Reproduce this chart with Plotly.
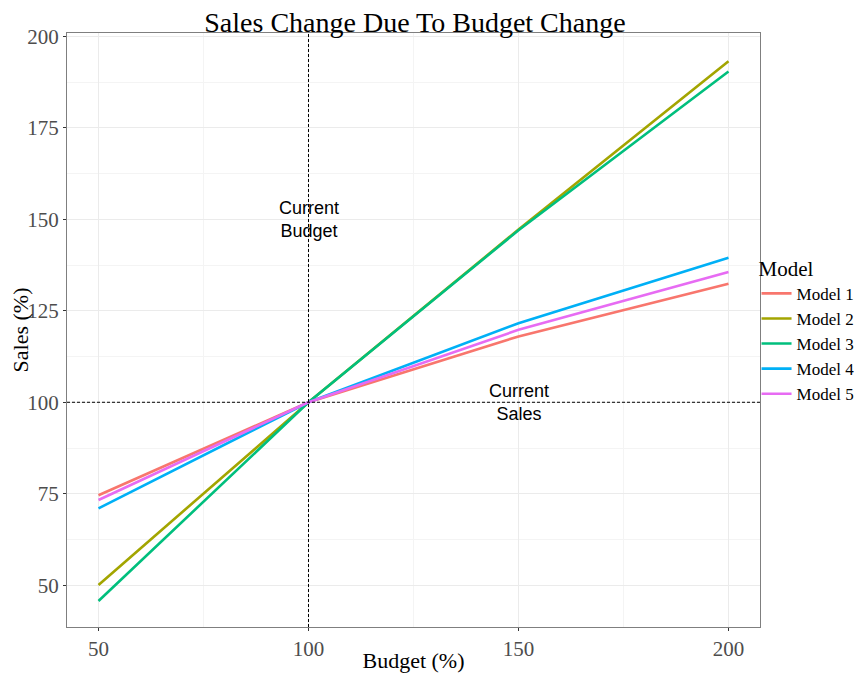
import plotly.graph_objects as go

budget = [50, 100, 150, 200]
model_names = ["Model 1", "Model 2", "Model 3", "Model 4", "Model 5"]
model1 = [74.6, 100, 118.0, 132.4]
model2 = [50.1, 100, 147.2, 193.2]
model3 = [45.7, 100, 147.0, 190.4]
model4 = [71.0, 100, 121.6, 139.5]
model5 = [73.3, 100, 119.8, 135.6]
series = [model1, model2, model3, model4, model5]
colors = ["#F8766D", "#A3A500", "#00BF7D", "#00B0F6", "#E76BF3"]

x_ticks = [50, 100, 150, 200]
y_ticks = [50, 75, 100, 125, 150, 175, 200]

fig = go.Figure()
for name, vals, c in zip(model_names, series, colors):
    fig.add_trace(go.Scatter(x=budget, y=vals, mode="lines", name=name,
                             line=dict(color=c, width=2.6)))

fig.add_vline(x=100, line=dict(color="black", width=1, dash="3px,2px"))
fig.add_hline(y=100, line=dict(color="black", width=1, dash="3px,2px"))

fig.add_annotation(x=100, y=150, text="Current<br>Budget", showarrow=False,
                   font=dict(family="Liberation Sans", size=18, color="black"))
fig.add_annotation(x=150, y=100, text="Current<br>Sales", showarrow=False,
                   font=dict(family="Liberation Sans", size=18, color="black"))

serif = "Liberation Serif"
fig.update_layout(
    width=855, height=665,
    margin=dict(l=59, r=103, t=25, b=46, autoexpand=False),
    paper_bgcolor="white", plot_bgcolor="white",
    title=dict(text="Sales Change Due To Budget Change", x=0.476, xanchor="center",
               y=0.993, yanchor="top",
               font=dict(family=serif, size=28, color="black")),
    font=dict(family=serif),
    legend=dict(title=dict(text="Model", font=dict(family=serif, size=21, color="black")),
                font=dict(family=serif, size=17, color="black"),
                x=0.995, xanchor="left", y=0.5, yanchor="middle",
                tracegroupgap=0, itemwidth=30, bgcolor="rgba(0,0,0,0)"),
    xaxis=dict(range=[42.5, 207.5], tickvals=x_ticks, ticktext=[str(v) for v in x_ticks],
               title=dict(text="Budget (%)", font=dict(family=serif, size=22, color="black"), standoff=2),
               tickfont=dict(family=serif, size=21, color="#4d4d4d"),
               showgrid=True, gridcolor="#ebebeb", gridwidth=1,
               minor=dict(dtick=25, tick0=25, showgrid=True, gridcolor="#f4f4f4", gridwidth=0.6),
               zeroline=False, showline=True, linecolor="#7f7f7f", linewidth=1, mirror=True,
               ticks="outside", ticklen=3, tickcolor="#333333"),
    yaxis=dict(range=[38.6, 200.9], tickvals=y_ticks, ticktext=[str(v) for v in y_ticks],
               title=dict(text="Sales (%)", font=dict(family=serif, size=22, color="black"), standoff=2),
               tickfont=dict(family=serif, size=21, color="#4d4d4d"),
               showgrid=True, gridcolor="#ebebeb", gridwidth=1,
               minor=dict(dtick=12.5, tick0=37.5, showgrid=True, gridcolor="#f4f4f4", gridwidth=0.6),
               zeroline=False, showline=True, linecolor="#7f7f7f", linewidth=1, mirror=True,
               ticks="outside", ticklen=3, tickcolor="#333333"),
)

fig.write_html("out.html")
